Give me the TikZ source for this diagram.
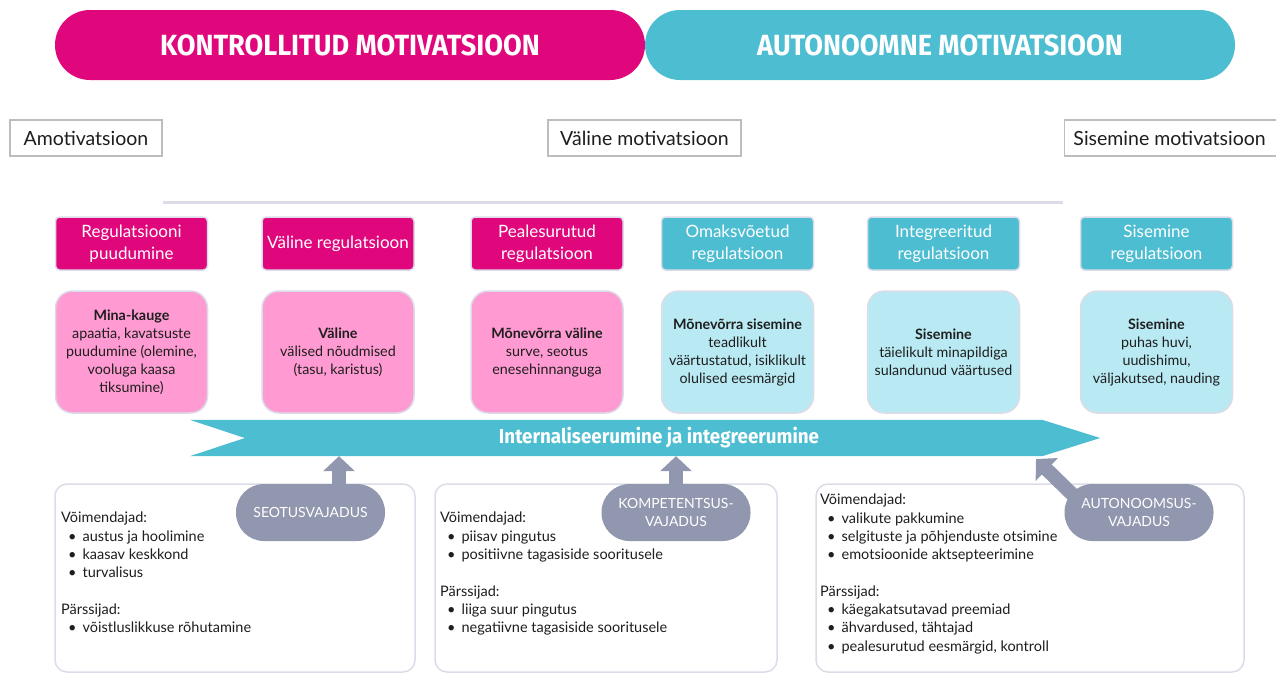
\documentclass[tikz,border=0pt]{standalone}
\usepackage{fontspec}
\setmainfont{Lato}
\newfontfamily\headfont[FakeStretch=0.93]{Fira Sans}
\usetikzlibrary{arrows.meta,backgrounds}

\pgfdeclarelayer{mid}
\pgfsetlayers{background,mid,main}

\definecolor{magentaD}{HTML}{E0077D}
\definecolor{tealD}{HTML}{4DBDD1}
\definecolor{pinkL}{HTML}{FF9BD2}
\definecolor{tealL}{HTML}{B9EAF3}
\definecolor{needgray}{HTML}{9197AE}
\definecolor{lav}{HTML}{DCDCE8}
\definecolor{labelgray}{HTML}{BDBDBD}
\definecolor{ink}{HTML}{1E1E1E}

\tikzset{
  banner/.style={rectangle, rounded corners=35pt, minimum width=590pt, minimum height=70pt,
    inner sep=0pt, text=white, font=\headfont\bfseries\fontsize{29.2}{30}\selectfont},
  levelbox/.style={rectangle, draw=labelgray, line width=1.2pt, fill=white, minimum height=36pt,
    inner sep=0pt, text=ink, font=\fontsize{19.5}{22}\selectfont},
  regbox/.style={rectangle, rounded corners=4pt, draw=lav, line width=1.5pt, minimum width=152pt,
    minimum height=53pt, inner sep=0pt, text=white, align=center,
    font=\fontsize{17}{22}\selectfont},
  regctl/.style={regbox, fill=magentaD},
  regaut/.style={regbox, fill=tealD},
  descbox/.style={rectangle, rounded corners=17pt, draw=lav, line width=1.5pt, minimum width=152pt,
    minimum height=122pt, inner sep=0pt, text=ink, align=center,
    font=\fontsize{14.3}{18}\selectfont},
  descctl/.style={descbox, fill=pinkL},
  descaut/.style={descbox, fill=tealL},
  factorbox/.style={rectangle, rounded corners=12pt, draw=lav, line width=1.5pt, fill=white,
    minimum height=188pt, inner sep=0pt},
  factortext/.style={anchor=north west, inner sep=0pt, text=ink, align=left,
    font=\fontsize{14.5}{18.3}\selectfont},
  needpill/.style={rectangle, rounded corners=28pt, fill=needgray, minimum width=149pt,
    minimum height=57pt, inner sep=0pt, text=white, align=center,
    font=\fontsize{14}{18}\selectfont},
  needarrow/.style={draw=needgray, line width=14pt,
    -{Triangle[width=31pt,length=15pt]}},
}
\newcommand{\itm}{\\\hspace*{7pt}\textbullet\hspace{6pt}}

\begin{document}
\begin{tikzpicture}[x=1pt,y=-1pt]
\useasboundingbox (0,0) rectangle (1276,673);

% motivation banners
\node[banner, fill=magentaD] (ctl) at (350,45) {KONTROLLITUD MOTIVATSIOON};
\node[banner, fill=tealD] (aut) at (940,45) {AUTONOOMNE MOTIVATSIOON};

% motivation levels
\node[levelbox, minimum width=152pt] (amot) at (86,138) {Amotivatsioon};
\node[levelbox, minimum width=193pt] (valm) at (644.5,138) {Väline motivatsioon};
\node[levelbox, minimum width=216pt, anchor=west] (sism) at (1064,138) {\hspace*{-6pt}Sisemine motivatsioon};

% divider under extrinsic motivation
\draw[lav, line width=3pt] (163,202) -- (1063,202);

% regulation types
\node[regctl] (r1) at (131.5,243.5) {Regulatsiooni\\puudumine};
\node[regctl] (r2) at (338,243.5) {Väline regulatsioon};
\node[regctl] (r3) at (547,243.5) {Pealesurutud\\regulatsioon};
\node[regaut] (r4) at (737.5,243.5) {Omaksvõetud\\regulatsioon};
\node[regaut] (r5) at (943.5,243.5) {Integreeritud\\regulatsioon};
\node[regaut] (r6) at (1156.5,243.5) {Sisemine\\regulatsioon};

% locus descriptions
\node[descctl] (d1) at (131.5,352) {\textbf{Mina-kauge}\\apaatia, kavatsuste\\puudumine (olemine,\\vooluga kaasa\\tiksumine)};
\node[descctl] (d2) at (338,352) {\textbf{Väline}\\välised nõudmised\\(tasu, karistus)};
\node[descctl] (d3) at (547,352) {\textbf{Mõnevõrra väline}\\surve, seotus\\enesehinnanguga};
\node[descaut] (d4) at (737.5,352) {\textbf{Mõnevõrra sisemine}\\teadlikult\\väärtustatud, isiklikult\\olulised eesmärgid};
\node[descaut] (d5) at (943.5,352) {\textbf{Sisemine}\\täielikult minapildiga\\sulandunud väärtused};
\node[descaut] (d6) at (1156.5,352) {\textbf{Sisemine}\\puhas huvi,\\uudishimu,\\väljakutsed, nauding};

% internalisation band
\node[minimum width=910pt, minimum height=36pt, inner sep=0pt, text=white,
  font=\headfont\bfseries\fontsize{20.2}{20}\selectfont] (flow) at (645,438)
  {\hspace*{28pt}Internaliseerumine ja integreerumine};
\begin{scope}[on background layer]
  \fill[tealD] (flow.north west) -- ([xshift=-58pt]flow.north east) -- (flow.east)
    -- ([xshift=-58pt]flow.south east) -- (flow.south west) -- ([xshift=55pt]flow.west) -- cycle;
\end{scope}

% supporting and thwarting factors
\begin{scope}[on background layer]
  \node[factorbox, minimum width=360pt] (f1) at (235,578) {};
  \node[factorbox, minimum width=342pt] (f2) at (606,578) {};
  \node[factorbox, minimum width=428pt] (f3) at (1030,578) {};
\end{scope}

\node[factortext] (t1) at (61,512) {Võimendajad:\itm austus ja hoolimine\itm kaasav keskkond\itm turvalisus\\[18.3pt]Pärssijad:\itm võistluslikkuse rõhutamine};
\node[factortext] (t2) at (440,512) {Võimendajad:\itm piisav pingutus\itm positiivne tagasiside sooritusele\\[18.3pt]Pärssijad:\itm liiga suur pingutus\itm negatiivne tagasiside sooritusele};
\node[factortext] (t3) at (820,494) {Võimendajad:\itm valikute pakkumine\itm selgituste ja põhjenduste otsimine\itm emotsioonide aktsepteerimine\\[18.3pt]Pärssijad:\itm käegakatsutavad preemiad\itm ähvardused, tähtajad\itm pealesurutud eesmärgid, kontroll};

% basic psychological needs
\node[needpill] (n1) at (310.5,512.5) {SEOTUSVAJADUS};
\node[needpill] (n2) at (676,512.5) {KOMPETENTSUS-\\VAJADUS};
\node[needpill] (n3) at (1139,512.5) {AUTONOOMSUS-\\VAJADUS};

% arrows from the needs into the band, tucked under the pills
\coordinate (n3tip) at (1036,459);
\begin{pgfonlayer}{mid}
  \draw[needarrow] ([xshift=28.5pt,yshift=-6pt]n1.north) -- ([xshift=28.5pt]n1.north |- flow.south);
  \draw[needarrow] ([yshift=-6pt]n2.north) -- (n2.north |- flow.south);
  \draw[needarrow] ([xshift=-57pt,yshift=-20pt]n3.north) -- (n3tip);
\end{pgfonlayer}
\end{tikzpicture}
\end{document}
